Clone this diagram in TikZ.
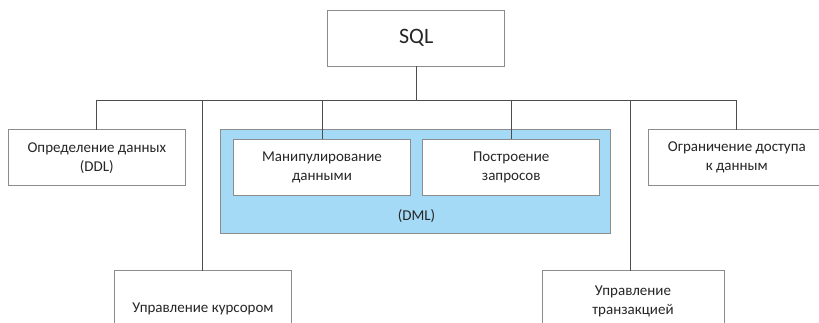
\documentclass[tikz,border=0pt]{standalone}
\usepackage{fontspec}
\setmainfont{Carlito}
\definecolor{boxgray}{HTML}{8C8C8C}
\definecolor{linegray}{HTML}{4D4D4D}
\definecolor{dmlblue}{HTML}{A4DAF6}
\definecolor{txtgray}{HTML}{262626}
\tikzset{
  blk/.style={draw=boxgray, fill=white, line width=0.9pt, inner sep=0pt, outer sep=0pt,
    minimum width=177pt, minimum height=56pt, align=center, text=txtgray,
    font=\fontsize{15}{19}\selectfont},
  wire/.style={draw=linegray, line width=0.9pt}
}
\begin{document}
\begin{tikzpicture}[x=1pt, y=-1pt]
  \useasboundingbox (0,0) rectangle (819,323);
  \clip (0,0) rectangle (819,323);

  % Define nodes for all elements
  \node[blk, font=\fontsize{22}{26}\selectfont] (SQL) at (416.2,38) {SQL};
  \node[blk] (DDL) at (96.8,157.7) {Определение данных\\(DDL)};
  \node[blk, fill=dmlblue, minimum width=390pt, minimum height=104pt] (DML) at (415,181) {};
  \node[blk] (MAN) at (322,167) {Манипулирование\\данными};
  \node[blk] (QRY) at (511.2,167) {Построение\\запросов};
  \node[text=txtgray, font=\fontsize{15}{19}\selectfont] (DMLlbl) at (416.5,216.5) {(DML)};
  \node[blk] (ACC) at (736.8,157.7) {Ограничение доступа\\к данным};
  \node[blk, minimum height=76pt] (CUR) at (203,308.7) {Управление курсором};
  \node[blk, minimum width=182pt, minimum height=61pt] (TRN) at (633,301.2) {Управление\\транзакцией};

  % Points on the common line
  \coordinate (jSQL) at (416.7,100);
  \coordinate (jDDL) at (96.8,100);
  \coordinate (jCUR) at (202.7,100);
  \coordinate (jMAN) at (322,100);
  \coordinate (jQRY) at (511.5,100);
  \coordinate (jTRN) at (630.7,100);
  \coordinate (jACC) at (736.8,100);

  % Draw lines
  \draw[wire] (SQL.south -| jSQL) -- (jSQL);
  \draw[wire] (jDDL) -- (jACC);
  \draw[wire] (jDDL) -- (DDL.north);
  \draw[wire] (jCUR) -- (jCUR |- CUR.north);
  \draw[wire] (jMAN) -- (MAN.north);
  \draw[wire] (jQRY) -- (jQRY |- QRY.north);
  \draw[wire] (jTRN) -- (jTRN |- TRN.north);
  \draw[wire] (jACC) -- (ACC.north);

\end{tikzpicture}
\end{document}
